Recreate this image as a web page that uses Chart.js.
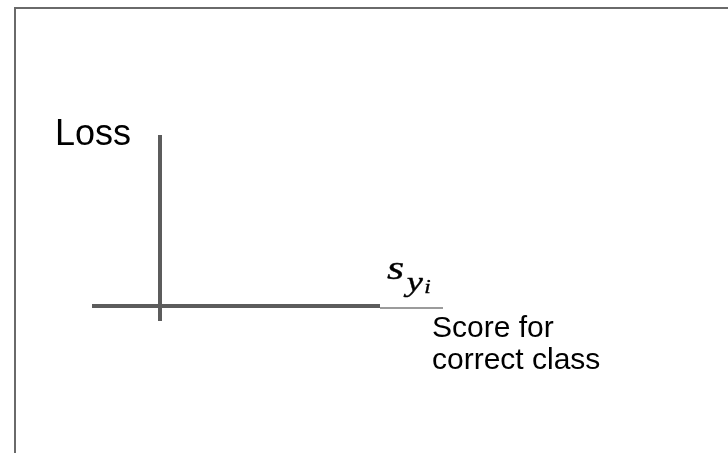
<!DOCTYPE html>
<html>
<head>
<meta charset="utf-8">
<script src="https://cdn.jsdelivr.net/npm/chart.js@4/dist/chart.umd.min.js"></script>
<style>
  html, body { margin: 0; padding: 0; background: #fff; }
  #stage { position: relative; width: 728px; height: 453px; overflow: hidden; }
  #frame {
    position: absolute; left: 14px; top: 7px; width: 760px; height: 500px;
    border-top: 2px solid #6a6a6a; border-left: 2px solid #6a6a6a;
  }
  #plot { position: absolute; left: 0; top: 0; }
  .lbl { position: absolute; white-space: nowrap; color: #000; }
  #lossLbl { left: 55px; top: 115px; font: 36px/1 "Liberation Sans", Arial, sans-serif; }
  #scoreLbl { left: 432px; top: 311px; font: 30px/32px "Liberation Sans", Arial, sans-serif; }
  #symLbl {
    left: 387px; top: 251px; font: italic 34px/1 "Liberation Serif", serif;
    transform: scaleX(1.3); transform-origin: 0 0;
    -webkit-text-stroke: 0.35px #000;
  }
  #symLbl .sub1 { font-size: 28px; position: relative; top: 12px; margin-left: 2px; }
  #symLbl .sub2 { font-size: 18px; position: relative; top: 2px; margin-left: 1px; }
</style>
</head>
<body>
<div id="stage">
  <div id="frame"></div>
  <canvas id="plot" width="728" height="453"></canvas>
  <div class="lbl" id="lossLbl">Loss</div>
  <div class="lbl" id="symLbl">s<span class="sub1">y<span class="sub2">i</span></span></div>
  <div class="lbl" id="scoreLbl">Score for<br>correct class</div>
</div>
<script>
// Axis extents in plot units (origin where the two axes cross)
const lossAxisX = [0, 0];
const lossAxisY = [-0.75, 8.55];
const scoreAxisX = [-3.4, 11.0];
const scoreAxisY = [0, 0];
const underlineX = [11.0, 14.15];
const underlineY = [-0.1, -0.1];

// Visible window of the plot, in the same units
const xRange = [-8, 28.4];
const yRange = [-7.35, 15.3];

function seg(xs, ys) {
  return xs.map((x, i) => ({ x: x, y: ys[i] }));
}

new Chart(document.getElementById('plot'), {
  type: 'line',
  data: {
    datasets: [
      { data: seg(lossAxisX, lossAxisY), borderColor: '#5c5c5c', borderWidth: 4 },
      { data: seg(scoreAxisX, scoreAxisY), borderColor: '#5c5c5c', borderWidth: 4 },
      { data: seg(underlineX, underlineY), borderColor: '#7a7a7a', borderWidth: 1.5 }
    ]
  },
  options: {
    responsive: false,
    devicePixelRatio: 1,
    animation: false,
    layout: { padding: 0 },
    elements: { point: { radius: 0, hoverRadius: 0 }, line: { tension: 0, borderCapStyle: 'butt' } },
    plugins: { legend: { display: false }, tooltip: { enabled: false } },
    events: [],
    scales: {
      x: { type: 'linear', min: xRange[0], max: xRange[1], display: false },
      y: { type: 'linear', min: yRange[0], max: yRange[1], display: false }
    }
  }
});
</script>
</body>
</html>
